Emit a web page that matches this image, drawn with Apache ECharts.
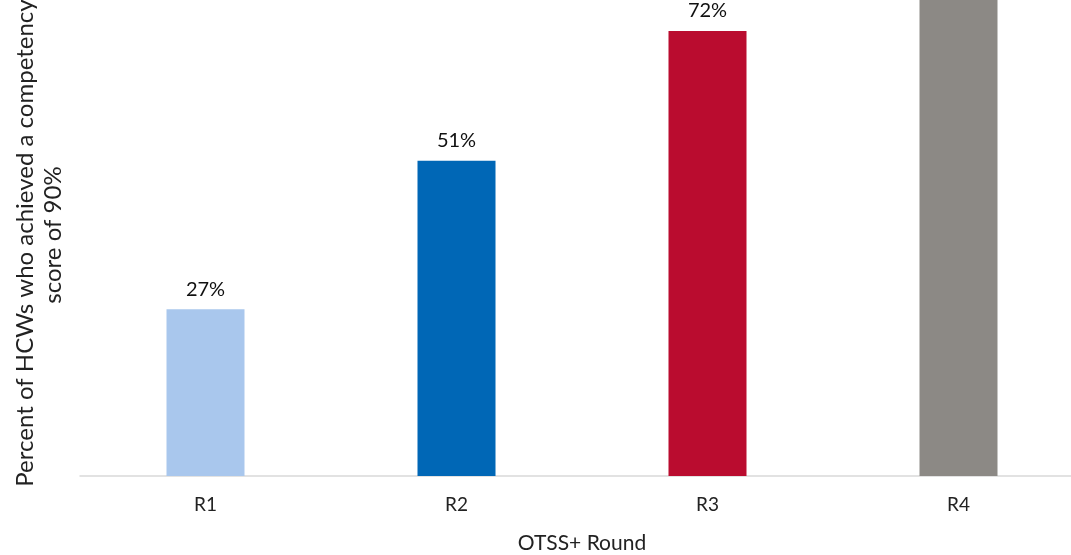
<!DOCTYPE html>
<html><head><meta charset="utf-8">
<script src="https://cdn.jsdelivr.net/npm/echarts@6/dist/echarts.min.js"></script>
<style>html,body{margin:0;padding:0;background:#fff}#c{width:1071px;height:555px}</style>
</head><body><div id="c"></div>
<script>
const categories = ['R1', 'R2', 'R3', 'R4'];
const values = [27, 51, 72, 83];
const barColors = ['#a9c7ed', '#0067b6', '#ba0c2f', '#8c8985'];
const yTitle = ['Percent of HCWs who achieved a competency', 'score of 90%'];
const xTitle = 'OTSS+ Round';
const FONT = 'Lato, "Liberation Sans", sans-serif';

const chart = echarts.init(document.getElementById('c'));
chart.setOption({
  animation: false,
  grid: { left: 80, right: -13, top: -142, bottom: 79, outerBoundsMode: 'none', containLabel: false },
  xAxis: {
    type: 'category', data: categories,
    axisLine: { lineStyle: { color: '#d9d9d9', width: 1.5 } },
    axisTick: { show: false },
    axisLabel: { color: '#222', fontSize: 19, fontFamily: FONT, margin: 19 },
    name: xTitle, nameLocation: 'middle', nameGap: 57,
    nameTextStyle: { color: '#222', fontSize: 21, fontFamily: FONT }
  },
  yAxis: {
    type: 'value', min: 0, max: 100,
    show: false, splitLine: { show: false }
  },
  series: [{
    type: 'bar', barWidth: 78,
    data: values.map((v, i) => ({ value: v, itemStyle: { color: barColors[i] } })),
    label: {
      show: true, position: 'top', distance: 10,
      formatter: p => p.value + '%',
      color: '#111', fontSize: 20, fontFamily: FONT
    }
  }],
  graphic: [{
    type: 'text', x: 25, y: 243, rotation: Math.PI / 2,
    style: { text: yTitle[0], fontSize: 24, fontFamily: FONT, fill: '#222', align: 'center', verticalAlign: 'middle' }
  }, {
    type: 'text', x: 53, y: 235, rotation: Math.PI / 2,
    style: { text: yTitle[1], fontSize: 24, fontFamily: FONT, fill: '#222', align: 'center', verticalAlign: 'middle' }
  }]
});
</script></body></html>
